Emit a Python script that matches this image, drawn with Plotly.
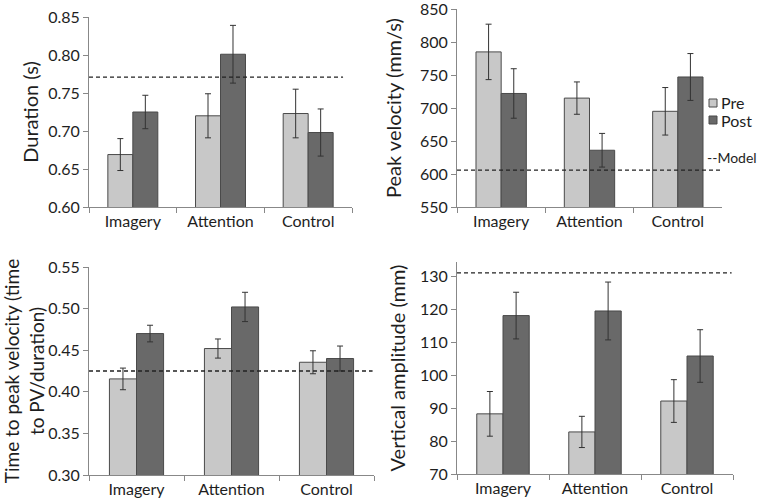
import plotly.graph_objects as go

categories = ["Imagery", "Attention", "Control"]

# Panel 1: Duration (s)
dur_pre = [0.669, 0.720, 0.723]
dur_pre_err = [0.021, 0.029, 0.032]
dur_post = [0.725, 0.801, 0.698]
dur_post_err = [0.022, 0.038, 0.031]
dur_model = 0.771

# Panel 2: Peak velocity (mm/s)
pv_pre = [785, 715, 695]
pv_pre_err = [42, 24.5, 36]
pv_post = [722, 636, 747]
pv_post_err = [37.5, 25.5, 35.5]
pv_model = 606

# Panel 3: Time to peak velocity
tpv_pre = [0.4155, 0.452, 0.4355]
tpv_pre_err = [0.013, 0.0115, 0.0138]
tpv_post = [0.470, 0.502, 0.440]
tpv_post_err = [0.010, 0.0176, 0.015]
tpv_model = 0.425

# Panel 4: Vertical amplitude (mm)
va_pre = [88.3, 82.8, 92.2]
va_pre_err = [6.8, 4.75, 6.5]
va_post = [118.2, 119.6, 105.9]
va_post_err = [7.1, 8.8, 8.0]
va_model = 131.2

legend_labels = ["Pre", "Post"]
model_label = "--Model"

PRE_COLOR = "#c8c8c8"
POST_COLOR = "#696969"
FONT = "Lato"
TXT = "#1e1e1e"

W, H = 761, 499

def px_x(a):
    return a / W

def px_y(a):
    return 1 - a / H

def dom_x(a, b):
    return [px_x(a), px_x(b)]

def dom_y(top, bottom):
    return [px_y(bottom), px_y(top)]

panels = [
    dict(pre=dur_pre, pre_e=dur_pre_err, post=dur_post, post_e=dur_post_err, model=dur_model,
         xd=dom_x(89, 352), yd=dom_y(17, 207), rng=[0.60, 0.85], dtick=0.05, fmt=".2f",
         title="Duration (s)", tsize=20, standoff=4, mx1=0.966),
    dict(pre=pv_pre, pre_e=pv_pre_err, post=pv_post, post_e=pv_post_err, model=pv_model,
         xd=dom_x(457, 722), yd=dom_y(9, 207), rng=[550, 850], dtick=50, fmt="d",
         title="Peak velocity (mm/s)", tsize=20, standoff=12, mx1=0.995),
    dict(pre=tpv_pre, pre_e=tpv_pre_err, post=tpv_post, post_e=tpv_post_err, model=tpv_model,
         xd=dom_x(89, 374), yd=dom_y(267, 475), rng=[0.30, 0.55], dtick=0.05, fmt=".2f",
         title="Time to peak velocity (time<br>to PV/duration)", tsize=19, standoff=8, mx1=0.995),
    dict(pre=va_pre, pre_e=va_pre_err, post=va_post, post_e=va_post_err, model=va_model,
         xd=dom_x(457, 733), yd=dom_y(262, 474), rng=[70, 134.5], dtick=10, fmt="d",
         title="Vertical amplitude (mm)", tsize=20, standoff=8, mx1=0.995),
]

fig = go.Figure()
layout = {}
shapes = []
for i, p in enumerate(panels):
    n = "" if i == 0 else str(i + 1)
    xa, ya = "x" + n, "y" + n
    for name, vals, errs, col in [("Pre", p["pre"], p["pre_e"], PRE_COLOR),
                                  ("Post", p["post"], p["post_e"], POST_COLOR)]:
        fig.add_trace(go.Bar(
            x=categories, y=vals, name=name, xaxis=xa, yaxis=ya,
            marker=dict(color=col, line=dict(color="#4a4a4a", width=1)),
            error_y=dict(type="data", array=errs, visible=True, color="#333333",
                         thickness=1, width=3),
            showlegend=False,
        ))
    ticks = []
    v = p["rng"][0]
    while v <= p["rng"][1] + 1e-9:
        ticks.append(round(v, 4))
        v += p["dtick"]
    layout["xaxis" + n] = dict(
        domain=p["xd"], anchor=ya, type="category", range=[-0.5, 2.5],
        showline=True, linecolor="#888888", linewidth=1,
        ticks="outside", tickson="boundaries", ticklen=5, tickcolor="#888888",
        tickfont=dict(family=FONT, size=16, color=TXT), showgrid=False,
        automargin=False, fixedrange=True,
    )
    layout["yaxis" + n] = dict(
        domain=p["yd"], anchor=xa, range=p["rng"], tickvals=ticks,
        tickformat=p["fmt"], showline=True, linecolor="#888888", linewidth=1,
        ticks="outside", ticklen=5, tickcolor="#888888", showgrid=False, zeroline=False,
        tickfont=dict(family=FONT, size=16, color=TXT), automargin=False,
        ticklabeloverflow="allow",
        title=dict(text=p["title"], font=dict(family=FONT, size=p["tsize"], color=TXT),
                   standoff=p["standoff"]),
    )
    shapes.append(dict(type="line", xref=xa + " domain", yref=ya, x0=0, x1=p["mx1"],
                       y0=p["model"], y1=p["model"],
                       line=dict(color="#222222", width=1.3, dash="4px,3px")))

# manual legend (Pre / Post swatches)
annotations = []
for lbl, col, yy in [(legend_labels[0], PRE_COLOR, 103), (legend_labels[1], POST_COLOR, 120)]:
    shapes.append(dict(type="rect", xref="paper", yref="paper",
                       x0=px_x(709), x1=px_x(717), y0=px_y(yy + 4), y1=px_y(yy - 4),
                       fillcolor=col, line=dict(color="#4a4a4a", width=1)))
    annotations.append(dict(text=lbl, xref="paper", yref="paper", x=px_x(719), y=px_y(yy),
                            xanchor="left", yanchor="middle", showarrow=False,
                            font=dict(family=FONT, size=16, color=TXT)))
annotations.append(dict(text=model_label, xref="paper", yref="paper",
                        x=px_x(759), y=px_y(157), xanchor="right", yanchor="middle",
                        showarrow=False, font=dict(family=FONT, size=14, color=TXT)))

fig.update_layout(
    **layout,
    shapes=shapes,
    annotations=annotations,
    width=W, height=H,
    margin=dict(l=0, r=0, t=0, b=0, autoexpand=False),
    paper_bgcolor="white", plot_bgcolor="white",
    barmode="group", bargap=0.43, bargroupgap=0,
    showlegend=False,
)

fig.write_html("out.html", config={"displayModeBar": False},
               post_script="document.body.style.margin='0';document.body.style.overflow='hidden';")
